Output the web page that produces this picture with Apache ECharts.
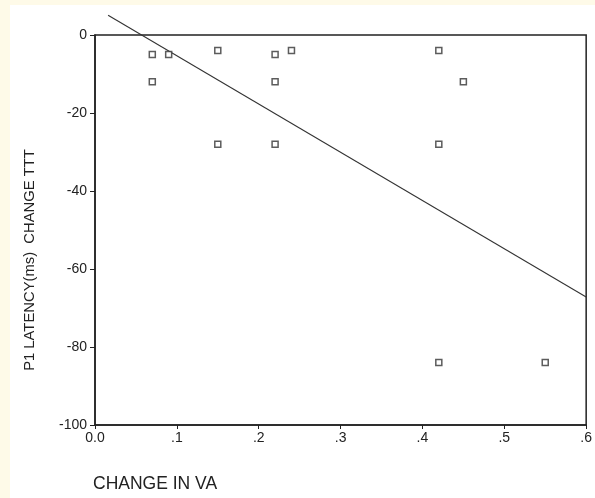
<!DOCTYPE html>
<html>
<head>
<meta charset="utf-8">
<script src="https://cdn.jsdelivr.net/npm/echarts@6/dist/echarts.min.js"></script>
<style>
html,body{margin:0;padding:0;background:#fefae8;width:595px;height:498px;overflow:hidden;}
#wrap{position:absolute;left:10px;top:5px;width:585px;height:493px;background:#ffffff;}
#chart{position:absolute;left:0;top:0;width:595px;height:498px;}
</style>
</head>
<body>
<div id="wrap"></div>
<div id="chart"></div>
<script>
// Data
const xTitle = "CHANGE IN VA";
const yTitle = "P1 LATENCY(ms)  CHANGE TTT";
const vaChange = [0.07, 0.07, 0.09, 0.15, 0.15, 0.22, 0.22, 0.22, 0.24, 0.42, 0.42, 0.45, 0.42, 0.55];
const p1Change = [-5, -12, -5, -4, -28, -5, -12, -28, -4, -4, -28, -12, -84, -84];
const fitX = [0.016, 0.6];
const fitY = [5.05, -67.2];
const xTicks = [0, 0.1, 0.2, 0.3, 0.4, 0.5, 0.6];
const xTickLabels = ["0.0", ".1", ".2", ".3", ".4", ".5", ".6"];
const yTicks = [-100, -80, -60, -40, -20, 0];

const chart = echarts.init(document.getElementById('chart'), null, {renderer: 'canvas'});
const font = "'Liberation Sans', Arial, sans-serif";
const ink = '#222';

const points = vaChange.map((v, i) => [v, p1Change[i]]);
const fit = fitX.map((v, i) => [v, fitY[i]]);

chart.setOption({
  backgroundColor: 'transparent',
  animation: false,
  grid: {left: 95, top: 35, right: 8, bottom: 73, show: true, borderColor: ink, borderWidth: 1.5, backgroundColor: 'transparent'},
  xAxis: {
    type: 'value', min: xTicks[0], max: xTicks[xTicks.length - 1], interval: 0.1,
    axisLine: {show: true, onZero: false, lineStyle: {color: ink, width: 1.5}},
    axisTick: {show: true, length: 4, lineStyle: {color: ink, width: 1}},
    splitLine: {show: false},
    axisLabel: {
      color: ink, fontFamily: font, fontSize: 14, margin: 6,
      formatter: function (v) {
        const idx = xTicks.findIndex(t => Math.abs(t - v) < 1e-9);
        return idx >= 0 ? xTickLabels[idx] : '';
      }
    }
  },
  yAxis: {
    type: 'value', min: yTicks[0], max: yTicks[yTicks.length - 1], interval: 20,
    axisLine: {show: true, onZero: false, lineStyle: {color: ink, width: 1.5}},
    axisTick: {show: true, length: 5, lineStyle: {color: ink, width: 1}},
    splitLine: {show: false},
    axisLabel: {color: ink, fontFamily: font, fontSize: 14, margin: 8}
  },
  graphic: [
    {type: 'text', x: 93, y: 484, style: {text: xTitle, fontFamily: font, fontSize: 17.5, fill: ink, textAlign: 'left', textVerticalAlign: 'middle'}},
    {type: 'text', x: 30, y: 260, rotation: Math.PI / 2, style: {text: yTitle, fontFamily: font, fontSize: 14.8, fill: ink, textAlign: 'center', textVerticalAlign: 'middle'}}
  ],
  series: [
    {
      type: 'line', data: fit, clip: false, symbol: 'none', silent: true,
      lineStyle: {color: '#333', width: 1.1}, z: 2
    },
    {
      type: 'scatter', data: points, symbol: 'rect', symbolSize: 6,
      itemStyle: {color: '#ffffff', borderColor: '#333', borderWidth: 1.5}, z: 3
    }
  ]
});
</script>
</body>
</html>
